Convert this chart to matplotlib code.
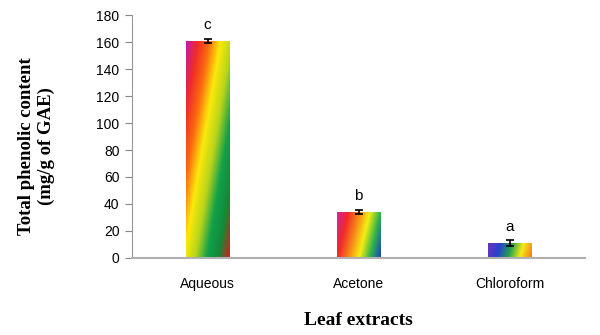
import matplotlib.pyplot as plt
import numpy as np
from matplotlib.colors import LinearSegmentedColormap

categories = ['Aqueous', 'Acetone', 'Chloroform']
values = [161, 34, 11]
errors = [1.5, 1.5, 2.0]
letters = ['c', 'b', 'a']

# per-bar rainbow fill (colour stops, tilt of the stripes)
fills = [
    (['#c21ca8', '#f02a2a', '#fb6a10', '#fbe90a', '#b8d41c', '#12a14a', '#118a3a', '#d02020'], 0.85),
    (['#d4249c', '#f2272a', '#f8861a', '#f5ee12', '#2fb34a', '#1c3fc0'], 0.25),
    (['#6a35b8', '#2a3fd0', '#20a050', '#f5ea18', '#f57a18'], 0.1),
]

plt.rcParams['font.family'] = ['Liberation Sans', 'DejaVu Sans']

fig = plt.figure(figsize=(6, 3.35), dpi=100)
ax = fig.add_axes([0.22, 0.23, 0.755, 0.725])

x = np.arange(len(categories))
width = 0.285
bars = ax.bar(x, values, width=width, color='none', edgecolor='none', zorder=2)

for b, (cols, tilt) in zip(bars, fills):
    cmap = LinearSegmentedColormap.from_list('rb', cols)
    xx, yy = np.meshgrid(np.linspace(0, 1, 60), np.linspace(1, 0, 200))
    u = (xx + tilt * (1 - yy)) / (1 + tilt)
    x0, h = b.get_x(), b.get_height()
    im = ax.imshow(u, cmap=cmap, extent=[x0, x0 + width, 0, h], aspect='auto',
                   origin='upper', zorder=2, interpolation='bilinear')
    im.set_clip_path(b)

ax.errorbar(x, values, yerr=errors, fmt='none', ecolor='black', elinewidth=1.2,
            capsize=3, capthick=1.2, zorder=3)
for xi, v, e, t in zip(x, values, errors, letters):
    ax.text(xi, v + e + 5, t, ha='center', va='bottom', fontsize=11)

ax.set_xlim(-0.5, 2.5)
ax.set_ylim(0, 180)
ax.set_yticks(range(0, 181, 20))
ax.set_xticks(x)
ax.set_xticklabels(categories, fontsize=10)
ax.tick_params(axis='y', labelsize=10, length=5, color='#888888', pad=4)
ax.tick_params(axis='x', length=0, pad=14)
for s in ['top', 'right']:
    ax.spines[s].set_visible(False)
ax.spines['left'].set_color('#999999')
ax.spines['bottom'].set_color('#b0b0b0')
ax.spines['bottom'].set_linewidth(1.5)

ax.set_ylabel('Total phenolic content\n(mg/g of GAE)', fontsize=13.5, fontweight='bold',
              family='Liberation Serif', linespacing=1.2)
ax.yaxis.set_label_coords(-0.17, 0.46)
ax.set_xlabel('Leaf extracts', fontsize=14, fontweight='bold',
              family='Liberation Serif', labelpad=15)

fig.savefig('out.png', dpi=100)
